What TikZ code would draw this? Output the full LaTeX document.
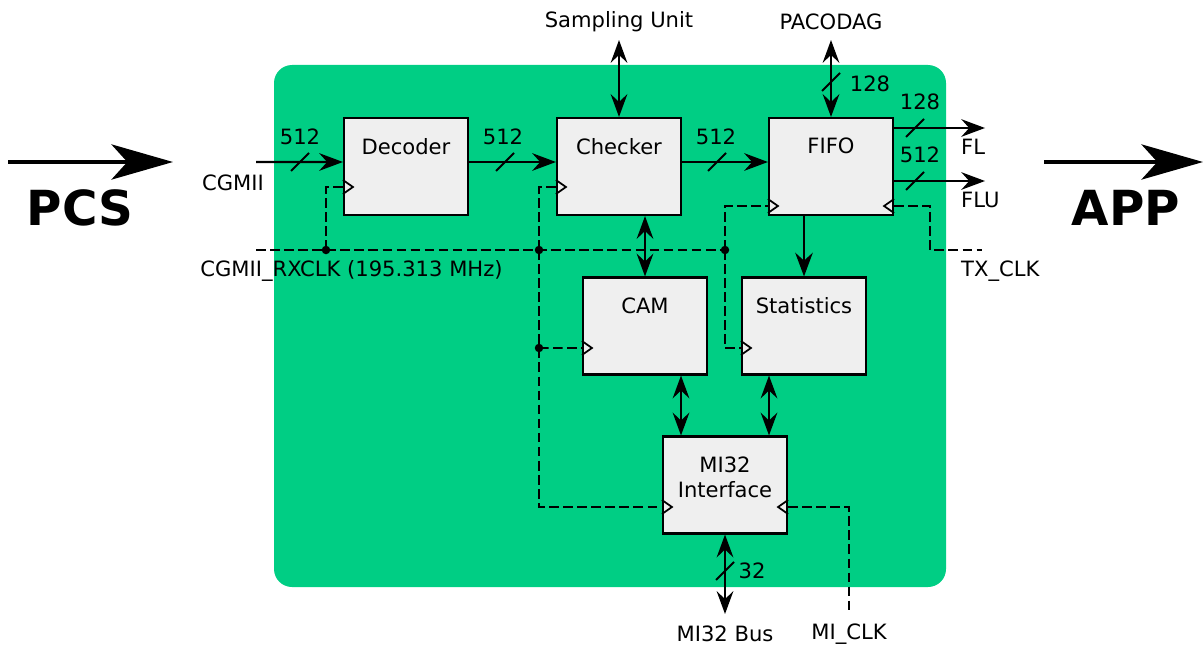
\documentclass[tikz,border=0pt]{standalone}
\usepackage{fontspec}
\setmainfont{DejaVu Sans}
\usetikzlibrary{arrows.meta,positioning}
\definecolor{boardgreen}{HTML}{00CE84}
\definecolor{blockgray}{HTML}{EFEFEF}

\begin{document}
\begin{tikzpicture}[
    font=\fontsize{12}{14.5}\selectfont,
    blk/.style={draw, line width=1.2pt, fill=blockgray, minimum width=2.48cm, minimum height=1.94cm, inner sep=0pt},
    blklbl/.style={anchor=north, yshift=-0.3cm, align=center},
    bus/.style={line width=1.2pt, -{Stealth[length=13.5pt,width=10pt,inset=4.5pt]}},
    bibus/.style={line width=1.2pt, {Stealth[length=13pt,width=9.5pt,inset=4.5pt]}-{Stealth[length=13pt,width=9.5pt,inset=4.5pt]}},
    clk/.style={line width=1pt, dash pattern=on 5.5pt off 2.5pt},
    bigarr/.style={line width=2.4pt, -{Stealth[length=35pt,width=20pt,inset=9pt]}},
    big/.style={font=\fontsize{27.5}{33}\selectfont\bfseries}
  ]
        \useasboundingbox (0,0) rectangle (24.08,12.92);
        \fill[boardgreen, rounded corners=0.36cm] (5.48,1.18) rectangle (18.92,11.62);

        % blocks
        \node[blk, label={[blklbl]north:Decoder}] (dec) at (8.12,9.59) {};
        \node[blk, label={[blklbl]north:Checker}] (chk) at (12.38,9.59) {};
        \node[blk, label={[blklbl]north:FIFO}] (fifo) at (16.62,9.59) {};
        \node[blk, label={[blklbl]north:CAM}] (cam) at (12.9,6.4) {};
        \node[blk, label={[blklbl]north:Statistics}] (stat) at (16.08,6.4) {};
        \node[blk, label={[blklbl]north:MI32\\Interface}] (mi) at (14.5,3.22) {};

        % outer labels
        \node (cgmii) at (4.66,9.26) {CGMII};
        \node (rxlbl) at (7.03,7.5) {CGMII\_RXCLK (195.313 MHz)};
        \node (samp) at (12.38,12.48) {Sampling Unit};
        \node (paco) at (16.62,12.48) {PACODAG};
        \node[anchor=west] (fl) at (19.1,9.98) {FL};
        \node[anchor=west] (flu) at (19.1,8.92) {FLU};
        \node[anchor=west] (txlbl) at (19.1,7.5) {TX\_CLK};
        \node (mibuslbl) at (14.5,0.24) {MI32 Bus};
        \node (miclklbl) at (16.98,0.24) {MI\_CLK};
        \node[big] (pcs) at (1.6,8.76) {PCS};
        \node[big] (app) at (22.52,8.76) {APP};

        \coordinate (cgmiiin) at (5.12,9.68);
        \coordinate (flout) at (19.7,10.36);
        \coordinate (fluout) at (19.7,9.3);
        \coordinate (sampin) at (12.38,12.12);
        \coordinate (pacoin) at (16.62,12.12);
        \coordinate (mibus) at (14.5,0.64);
        \coordinate (miclk) at (16.98,0.66);
        \coordinate (rxclk) at (5.12,7.92);
        \coordinate (txclk) at (19.64,7.92);
        \coordinate (jdec) at (6.52,7.92);
        \coordinate (jchk) at (10.78,7.92);
        \coordinate (jfifo) at (14.5,7.92);
        \coordinate (jcam) at (10.78,5.96);

        % big arrows
        \coordinate (pcsa) at (0.16,9.68);
        \coordinate (pcsb) at (3.46,9.68);
        \coordinate (appa) at (20.88,9.68);
        \coordinate (appb) at (24.06,9.68);
        \draw[bigarr] (pcsa) -- (pcsb);
        \draw[bigarr] (appa) -- (appb);

        % data
        \draw[bus] (cgmiiin) -- ([yshift=0.09cm]dec.west);
        \draw[bus] ([yshift=0.09cm]dec.east) -- ([yshift=0.09cm]chk.west);
        \draw[bus] ([yshift=0.09cm]chk.east) -- ([yshift=0.09cm]fifo.west);
        \draw[bus] ([yshift=0.77cm]fifo.east) -- (flout);
        \draw[bus] ([yshift=-0.29cm]fifo.east) -- (fluout);
        \draw[bibus] (chk.north) -- (sampin);
        \draw[bibus] (fifo.north) -- (pacoin);
        \draw[bibus] (chk.south -| cam.north) -- (cam.north);
        \draw[bus] (fifo.south -| stat.north) -- (stat.north);
        \draw[bibus] ([xshift=0.72cm]cam.south) -- ([xshift=0.72cm]cam.south |- mi.north);
        \draw[bibus] ([xshift=-0.7cm]stat.south) -- ([xshift=-0.7cm]stat.south |- mi.north);
        \draw[bibus] (mi.south) -- (mibus);

        % bus widths
        \foreach \x/\y in {6.0/9.68, 10.1/9.68, 14.34/9.68, 18.3/10.36, 18.3/9.3, 16.62/11.28, 14.5/1.5}
          \draw[line width=1.1pt] (\x-0.18,\y-0.18) -- (\x+0.18,\y+0.18);
        \foreach \x/\y/\w [count=\i] in {6.0/10.18/512, 10.06/10.18/512, 14.32/10.18/512, 18.4/10.88/128, 18.4/9.82/512, 17.4/11.24/128, 15.04/1.5/32}
          \node (bw\i) at (\x,\y) {\w};

        % clocks
        \draw[clk] (rxclk) -- (jfifo);
        \draw[clk] (jdec) |- ([yshift=-0.41cm]dec.west);
        \draw[clk] (jchk) |- ([yshift=-0.41cm]chk.west);
        \draw[clk] (jchk) |- ([yshift=-0.44cm]mi.west);
        \draw[clk] (jcam) -- ([yshift=-0.44cm]cam.west);
        \draw[clk] (jfifo) |- ([yshift=-0.79cm]fifo.west);
        \draw[clk] (jfifo) |- ([yshift=-0.44cm]stat.west);
        \draw[clk] ([yshift=-0.79cm]fifo.east) -- ++(0.72,0) |- (txclk);
        \draw[clk] ([yshift=-0.44cm]mi.east) -| (miclk);
        \foreach \j in {jdec,jchk,jfifo,jcam}
          \fill (\j) circle (0.085);

        \foreach \b/\dy in {dec/-0.41, chk/-0.41, fifo/-0.79, cam/-0.44, stat/-0.44, mi/-0.44}
          \draw[line width=1pt] ([yshift=\dy cm+0.14cm]\b.west) -- ++(0.2,-0.14) -- ++(-0.2,-0.14);
        \foreach \b/\dy in {fifo/-0.79, mi/-0.44}
          \draw[line width=1pt] ([yshift=\dy cm+0.14cm]\b.east) -- ++(-0.2,-0.14) -- ++(0.2,-0.14);
      \end{tikzpicture}
\end{document}
